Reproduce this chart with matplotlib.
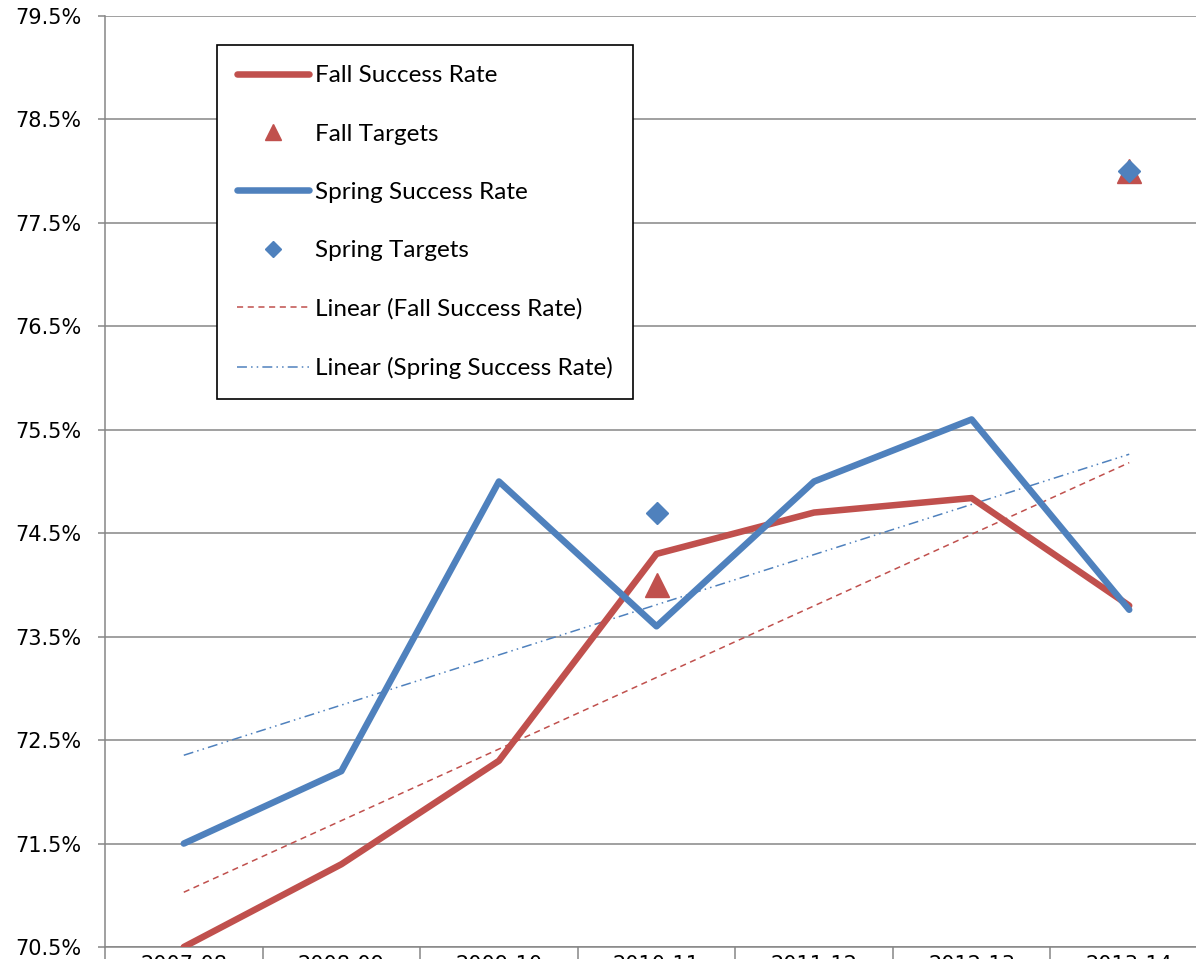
import numpy as np
import matplotlib
matplotlib.use('Agg')
import matplotlib.pyplot as plt
from matplotlib.ticker import FixedLocator, FuncFormatter

# Data
years = ['2007-08', '2008-09', '2009-10', '2010-11', '2011-12', '2012-13', '2013-14']
fall_rate = [70.5, 71.3, 72.3, 74.3, 74.7, 74.84, 73.8]
spring_rate = [71.5, 72.2, 75.0, 73.6, 75.0, 75.6, 73.76]
fall_targets = [np.nan, np.nan, np.nan, 74.0, np.nan, np.nan, 78.0]
spring_targets = [np.nan, np.nan, np.nan, 74.7, np.nan, np.nan, 78.0]

red = '#C0504D'
blue = '#4F81BD'
grid_gray = '#868686'

fig = plt.figure(figsize=(11.96, 9.59), dpi=100)
ax = fig.add_axes([105 / 1196, 12 / 959, 1103 / 1196, 931 / 959])

x = np.arange(len(years))

# Excel style linear trendlines
fall_fit = np.polyfit(x, fall_rate, 1)
spring_fit = np.polyfit(x, spring_rate, 1)

ax.plot(x, np.polyval(fall_fit, x), color=red, lw=1.1,
        linestyle=(0, (4, 3)), label='Linear (Fall Success Rate)', zorder=3)
ax.plot(x, np.polyval(spring_fit, x), color=blue, lw=1.1,
        linestyle=(0, (6.5, 2.7, 1, 2.7, 1, 2.7)),
        label='Linear (Spring Success Rate)', zorder=3)

ax.plot(x, fall_rate, color=red, lw=4.7, solid_capstyle='round',
        solid_joinstyle='round', label='Fall Success Rate', zorder=4)
ax.plot(x, fall_targets, linestyle='none', marker='^', ms=17, color=red,
        label='Fall Targets', zorder=5)
ax.plot(x, spring_rate, color=blue, lw=4.7, solid_capstyle='round',
        solid_joinstyle='round', label='Spring Success Rate', zorder=6)
ax.plot(x, spring_targets, linestyle='none', marker='D', ms=11.7, color=blue,
        label='Spring Targets', zorder=7)

ax.set_xlim(-0.5, 6.5)
ax.set_ylim(70.5, 79.5)

ax.yaxis.set_major_locator(FixedLocator(np.arange(70.5, 79.6, 1.0)))
ax.yaxis.set_major_formatter(FuncFormatter(lambda v, p: '%.1f%%' % v))
ax.grid(axis='y', color=grid_gray, lw=1.1)
ax.set_axisbelow(True)

ax.set_xticks(x)
ax.set_xticklabels(years)
ax.set_xticks(np.arange(-0.5, 7.0, 1.0), minor=True)
ax.tick_params(axis='x', which='major', length=0, pad=6, labelsize=15)
ax.tick_params(axis='x', which='minor', length=9, width=1.1, color=grid_gray)
ax.tick_params(axis='y', length=5, width=1.1, color=grid_gray, pad=12,
               labelsize=15)

for side in ['top', 'right']:
    ax.spines[side].set_visible(False)
for side in ['left', 'bottom']:
    ax.spines[side].set_color(grid_gray)
    ax.spines[side].set_linewidth(1.1)

handles, labels = ax.get_legend_handles_labels()
order = ['Fall Success Rate', 'Fall Targets', 'Spring Success Rate',
         'Spring Targets', 'Linear (Fall Success Rate)',
         'Linear (Spring Success Rate)']
hmap = dict(zip(labels, handles))
leg = ax.legend([hmap[k] for k in order], order, loc='upper left',
                bbox_to_anchor=(217 / 1196, 1 - 45 / 959),
                bbox_transform=fig.transFigure, borderaxespad=0,
                prop={'family': 'Lato', 'size': 17.5}, frameon=True,
                fancybox=False, edgecolor='black', framealpha=1,
                labelspacing=1.53, borderpad=0.84, handlelength=2.95,
                handletextpad=0.25, markerscale=0.68)
leg.get_frame().set_linewidth(1.2)
leg.set_zorder(10)

fig.savefig('out.png', dpi=100)
